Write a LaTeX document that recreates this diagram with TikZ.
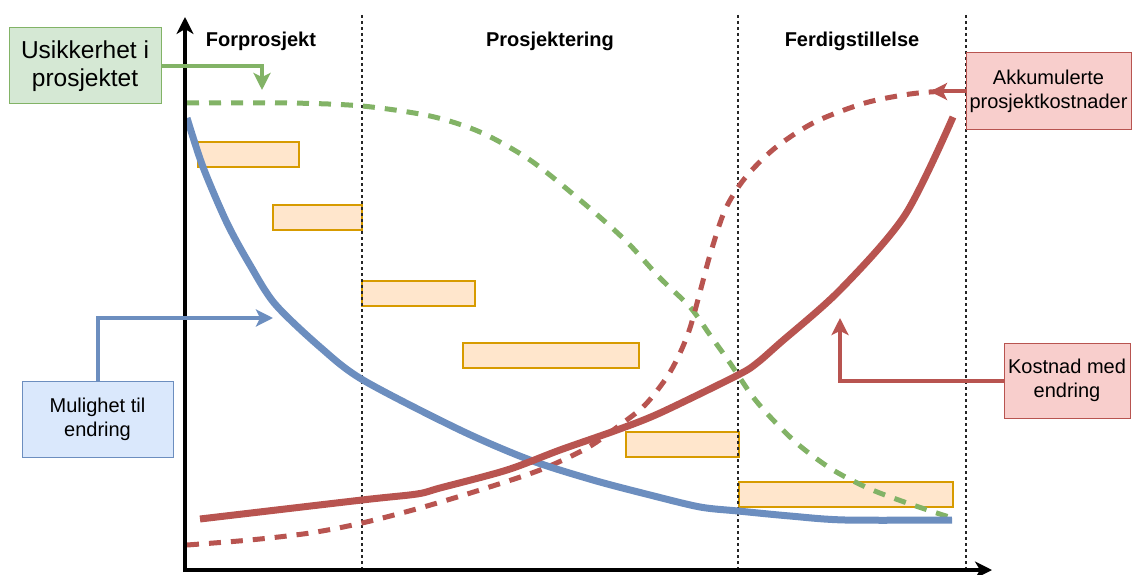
\documentclass[tikz,border=0pt]{standalone}
\usepackage{fontspec}
\setmainfont{Liberation Sans}
\usetikzlibrary{arrows.meta}

\definecolor{bluec}{HTML}{6C8EBF}
\definecolor{bluefill}{HTML}{DAE8FC}
\definecolor{redc}{HTML}{B85450}
\definecolor{redfill}{HTML}{F8CECC}
\definecolor{greenc}{HTML}{82B366}
\definecolor{greenfill}{HTML}{D5E8D4}
\definecolor{orangec}{HTML}{D79B00}
\definecolor{orangefill}{HTML}{FFE6CC}

\tikzset{
  phasebox/.style={draw=orangec, fill=orangefill, line width=1.2pt},
  phasesep/.style={draw=black!85, line width=1.3pt, dash pattern=on 3pt off 3pt},
  phaselabel/.style={font=\fontsize{20}{24}\selectfont\bfseries, anchor=base},
  axisline/.style={line width=3.5pt, -{Stealth[length=17pt, width=17pt, inset=5pt]}},
  callout/.style={line width=1pt, inner sep=0pt, align=center,
    font=\fontsize{20}{24}\selectfont},
  curve/.style={line width=7pt, smooth, tension=0.5},
  dashcurve/.style={line width=5pt, smooth, tension=0.5, dash pattern=on 12pt off 10pt},
  pointer/.style={line width=4pt, -{Stealth[length=17pt, width=17pt, inset=4pt]}},
}

\begin{document}
\begin{tikzpicture}[x=1pt, y=-1pt]
\path[use as bounding box] (0,0) rectangle (1132,575);

% activity bars
\node[phasebox, minimum width=101pt, minimum height=25pt, inner sep=0pt] (b1) at (248.5,154.5) {};
\node[phasebox, minimum width=89pt,  minimum height=25pt, inner sep=0pt] (b2) at (317.5,217.5) {};
\node[phasebox, minimum width=113pt, minimum height=25pt, inner sep=0pt] (b3) at (418.5,293.5) {};
\node[phasebox, minimum width=176pt, minimum height=25pt, inner sep=0pt] (b4) at (551,355.5) {};
\node[phasebox, minimum width=113pt, minimum height=25pt, inner sep=0pt] (b5) at (682.5,444.5) {};
\node[phasebox, minimum width=214pt, minimum height=25pt, inner sep=0pt] (b6) at (846,494.5) {};

% phase separators
\coordinate (s1t) at (362,15);  \coordinate (s1b) at (362,570);
\coordinate (s2t) at (738,15);  \coordinate (s2b) at (738,570);
\coordinate (s3t) at (966,15);  \coordinate (s3b) at (966,570);
\draw[phasesep] (s1t) -- (s1b);
\draw[phasesep] (s2t) -- (s2b);
\draw[phasesep] (s3t) -- (s3b);

% phase names
\node[phaselabel] (p1) at (261,47) {Forprosjekt};
\node[phaselabel] (p2) at (550,47) {Prosjektering};
\node[phaselabel] (p3) at (852,47) {Ferdigstillelse};

% uncertainty (green, dashed)
\draw[greenc, dashcurve] plot coordinates {(187,103) (290,103) (362,106) (430,116) (480,132)
  (530,160) (580,200) (625,240) (660,278) (690,307) (710,335) (730,363) (753,397) (775,422)
  (800,446) (833,470) (870,489) (910,504) (952,518)};

% accumulated cost (red, dashed)
\draw[redc, dashcurve] plot coordinates {(187,545) (250,540) (310,533) (362,523) (420,508)
  (480,490) (540,470) (587,448) (620,425) (645,405) (667,377) (680,353) (690,328) (700,292)
  (710,255) (725,210) (745,178) (775,148) (815,122) (865,103) (910,94) (945,91)};

% possibility for change (blue)
\draw[bluec, curve] plot coordinates {(187,118) (203,167) (227,223) (250,265) (275,304)
  (320,347) (363,380) (460,430) (530,460) (593,480) (650,495) (700,507) (738,511) (790,516)
  (845,520) (952,520)};

% cost of change (red)
\draw[redc, curve] plot coordinates {(200,519) (362,500) (417,494) (440,488) (507,470)
  (560,450) (617,430) (660,413) (738,375) (757,363) (780,343) (840,290) (905,215) (953,117)};

% axes
\coordinate (origin) at (185,570);
\coordinate (ytop) at (185,17);
\coordinate (xend) at (992,570);
\draw[axisline] (185,572) -- (ytop);
\draw[axisline] (183.25,570) -- (xend);

% callouts
\node[callout, draw=greenc, fill=greenfill, minimum width=152pt, minimum height=76pt,
  font=\fontsize{24.5}{28.5}\selectfont] (unc) at (85,66) {Usikkerhet i\\prosjektet};
\node[callout, draw=bluec, fill=bluefill, minimum width=151pt, minimum height=76pt]
  (mul) at (97.5,419) {Mulighet til\\endring};
\node[callout, draw=redc, fill=redfill, minimum width=165pt, minimum height=77pt]
  (akk) at (1048.5,91.5) {Akkumulerte\\prosjektkostnader};
\node[callout, draw=redc, fill=redfill, minimum width=126pt, minimum height=75pt]
  (kost) at (1067,380.5) {Kostnad med\\endring};

% callout pointers
\coordinate (ga) at (262,90);
\coordinate (ma) at (273,318);
\coordinate (aa) at (930,91.5);
\coordinate (ka) at (840,318);
\draw[pointer, greenc] (unc.east) -| (ga);
\draw[pointer, bluec] (mul.north) |- (ma);
\draw[pointer, redc] (akk.west) -- (aa);
\draw[pointer, redc] (kost.west) -| (ka);
\end{tikzpicture}
\end{document}
